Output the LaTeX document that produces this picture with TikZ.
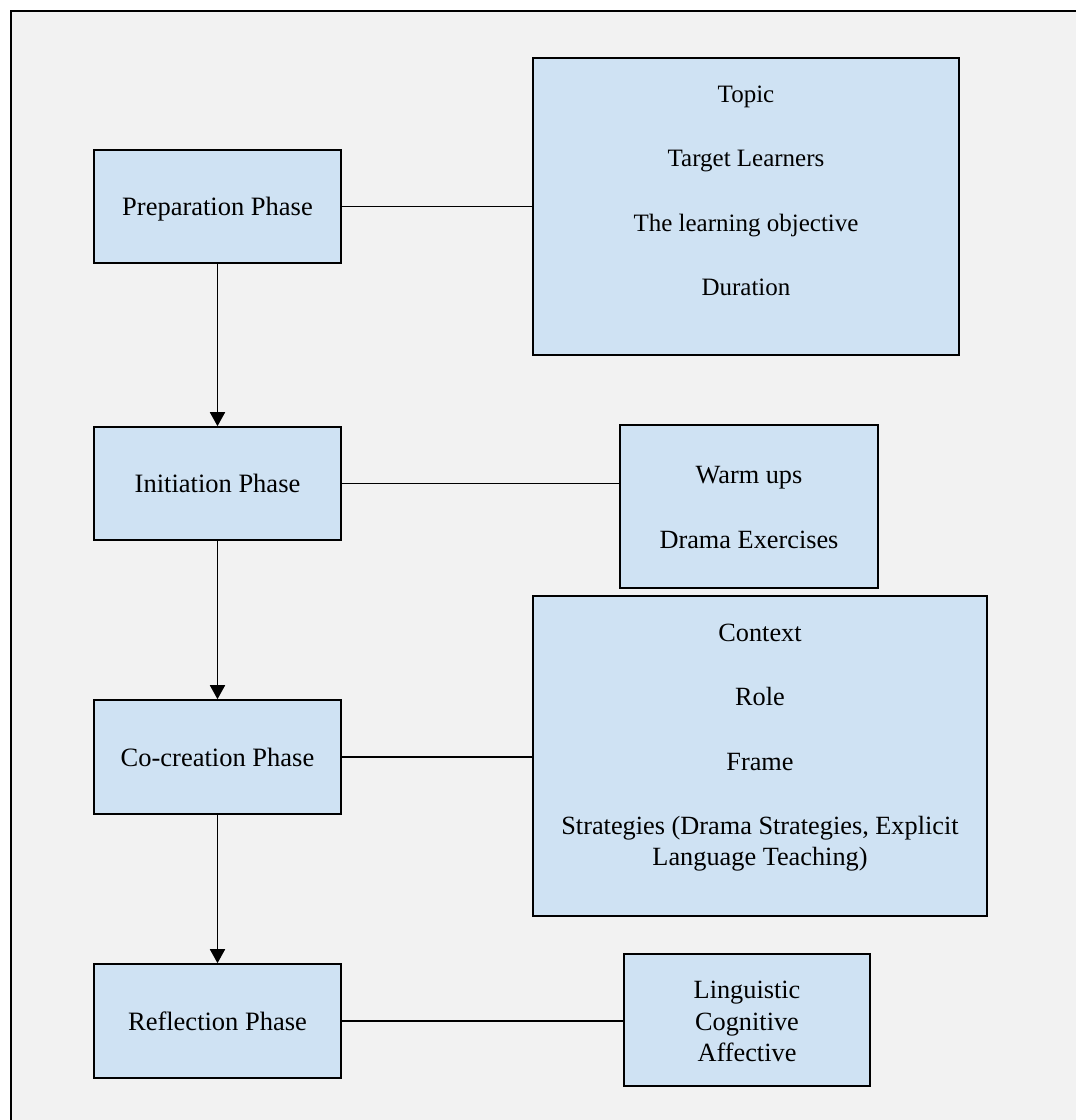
\documentclass[tikz,border=0pt]{standalone}
\usepackage{fontspec}
\setmainfont{Liberation Serif}
\usetikzlibrary{arrows.meta,calc}
\definecolor{paper}{RGB}{242,242,242}
\definecolor{boxfill}{RGB}{207,226,243}
\tikzset{
  phase/.style={draw=black, fill=boxfill, line width=1.6pt, minimum width=247pt,
    minimum height=113pt, inner sep=0pt, text height=18pt, text depth=0pt,
    font=\fontsize{26.5}{31}\selectfont},
  detail/.style={draw=black, fill=boxfill, line width=1.6pt, inner sep=0pt},
  item/.style={anchor=base, inner sep=0pt, font=\fontsize{26.3}{31}\selectfont},
  smallitem/.style={item, font=\fontsize{25}{30}\selectfont},
  link/.style={line width=1.6pt},
  flow/.style={line width=1.7pt, -{Triangle[length=14pt,width=15pt]}}
}
\begin{document}
\begin{tikzpicture}[x=1pt,y=-1pt]
\useasboundingbox (0,0) rectangle (1076,1120);
% page and frame
\fill[white] (0,0) rectangle (1076,1120);
\fill[paper] (11.3,11.3) rectangle (1076,1120);
\draw[line width=2pt] (11.3,1120) -- (11.3,11.3) -- (1076,11.3);

% phases
\node[phase] (prep) at (217.5,206.5) {Preparation Phase};
\node[phase] (init) at (217.5,483.5) {Initiation Phase};
\node[phase, minimum height=114pt] (cocr) at (217.5,757) {Co-creation Phase};
\node[phase, minimum height=114pt] (refl) at (217.5,1021) {Reflection Phase};

% detail boxes
\node[detail, minimum width=426pt, minimum height=297pt] (topic) at (746,206.5) {};
\node[detail, minimum width=258pt, minimum height=163pt] (warm) at (749,506.5) {};
\node[detail, minimum width=454pt, minimum height=320pt] (ctx) at (760,756) {};
\node[detail, minimum width=246pt, minimum height=132pt] (ling) at (747,1020) {};

% detail texts
\node[smallitem] (t1) at (746,102) {Topic};
\node[smallitem] (t2) at (746,166.5) {Target Learners};
\node[smallitem] (t3) at (746,231) {The learning objective};
\node[smallitem] (t4) at (746,295.5) {Duration};

\node[item] (w1) at (749,483) {Warm ups};
\node[item] (w2) at (749,548) {Drama Exercises};

\node[item] (c1) at (760,641) {Context};
\node[item] (c2) at (760,705) {Role};
\node[item] (c3) at (760,770) {Frame};
\node[item] (c4) at (760,834) {Strategies (Drama Strategies, Explicit};
\node[item] (c5) at (760,865) {Language Teaching)};

\node[item] (l1) at (747,998) {Linguistic};
\node[item] (l2) at (747,1030) {Cognitive};
\node[item] (l3) at (747,1061) {Affective};

% connectors
\draw[link] (prep.east) -- (prep.east -| topic.west);
\draw[link] (init.east) -- (init.east -| warm.west);
\draw[link] (cocr.east) -- (cocr.east -| ctx.west);
\draw[link] (refl.east) -- (refl.east -| ling.west);

\draw[flow] (prep.south) -- (init.north);
\draw[flow] (init.south) -- (cocr.north);
\draw[flow] (cocr.south) -- (refl.north);
\end{tikzpicture}
\end{document}
